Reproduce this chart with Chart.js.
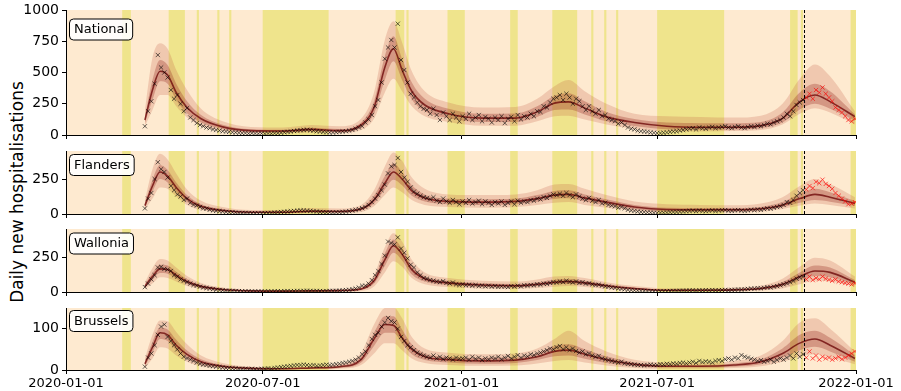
<!DOCTYPE html>
<html>
<head>
<meta charset="utf-8">
<script src="https://cdn.jsdelivr.net/npm/chart.js@4.4.0/dist/chart.umd.min.js"></script>
<style>
  body { margin: 0; background: #fff; width: 901px; height: 391px; position: relative; overflow: hidden; font-family: "DejaVu Sans"; }
  canvas { position: absolute; left: 0; }
  #ylabel { position: absolute; left: 17px; top: 192px; transform: translate(-50%, -50%) rotate(-90deg); font-size: 17px; white-space: nowrap; color: #000; }
</style>
</head>
<body>
<div id="ylabel">Daily new hospitalisations</div>
<canvas id="c0" width="901" height="144" style="top:0px"></canvas>
<canvas id="c1" width="901" height="78" style="top:144px"></canvas>
<canvas id="c2" width="901" height="78" style="top:222px"></canvas>
<canvas id="c3" width="901" height="91" style="top:300px"></canvas>
<script>
const xTickLabels = ["2020-01-01", "2020-07-01", "2021-01-01", "2021-07-01", "2022-01-01"];
const cutoffDate = "2021-11-14";

// school holidays (shaded)
const holidays = [
  ["2020-02-22", "2020-03-01"], ["2020-04-05", "2020-04-20"], ["2020-05-01", "2020-05-03"],
  ["2020-05-20", "2020-05-22"], ["2020-05-31", "2020-06-02"], ["2020-07-01", "2020-08-31"],
  ["2020-11-01", "2020-11-09"], ["2020-11-11", "2020-11-13"], ["2020-12-19", "2021-01-04"],
  ["2021-02-15", "2021-02-22"], ["2021-03-26", "2021-04-18"], ["2021-05-01", "2021-05-03"],
  ["2021-05-13", "2021-05-15"], ["2021-05-24", "2021-05-26"], ["2021-07-01", "2021-09-01"],
  ["2021-11-01", "2021-11-08"], ["2021-11-11", "2021-11-13"], ["2021-12-27", "2022-01-01"]
];

// observations: one every 3 days from obsStart
const obsStart = "2020-03-14";
const obsStep = 3;

const nationalObs = [70,190,270,410,640,540,500,460,360,290,
  320,250,190,215,140,120,95,
  80,70,60,55,45,40,35,30,28,25,
  22,20,18,15,15,12,14,12,10,12,
  10,12,11,14,15,18,22,25,28,32,35,
  38,40,42,38,35,30,28,25,22,20,
  20,22,25,28,30,35,40,50,60,70,
  100,125,160,230,280,420,610,700,760,700,
  890,600,520,420,330,300,260,230,210,200,
  170,210,160,120,180,150,120,170,140,110,
  150,130,170,120,140,160,110,145,130,100,
  140,120,150,95,130,145,110,160,125,150,
  140,170,150,190,185,230,220,260,290,300,
  320,280,330,300,250,290,270,230,200,230,
  190,170,200,150,160,130,120,110,90,100,
  80,60,50,45,35,30,28,25,20,18,
  15,15,18,20,25,28,30,35,40,45,
  50,55,45,60,55,50,60,65,55,60,
  65,70,60,55,65,70,60,55,65,70,
  65,75,70,80,90,85,100,110,120,140,
  170,150,190,240,260,280,
  300,330,290,360,340,380,330,300,270,220,200,180,150,120,110,130];

const flandersObs = [40,110,150,250,370,320,300,260,200,170,
  140,125,100,110,80,65,60,
  50,40,38,30,25,22,20,18,15,12,
  12,10,9,8,8,7,6,6,5,6,
  6,7,8,10,12,14,16,18,20,22,24,
  26,25,24,22,20,18,15,14,12,12,
  11,12,13,15,17,20,25,30,35,42,
  50,65,85,110,135,170,210,290,340,350,
  400,300,260,230,190,160,145,130,120,115,
  105,120,95,85,110,90,80,100,85,70,
  90,80,100,75,85,95,70,90,80,65,
  85,75,90,65,80,90,70,95,80,90,
  85,100,95,110,105,120,115,130,140,135,
  145,130,150,135,120,140,125,110,100,115,
  95,85,100,75,80,65,60,55,45,50,
  40,30,25,22,18,15,14,12,10,9,
  8,8,9,10,12,14,15,17,18,20,
  22,24,20,25,22,20,24,26,22,25,
  26,28,24,22,26,28,24,22,26,30,
  28,32,30,35,40,38,45,50,55,65,
  85,80,100,130,150,170,
  175,200,185,230,220,245,215,200,180,150,130,110,90,70,75,85];

const walloniaObs = [35,60,90,120,175,180,165,160,150,120,
  110,90,80,70,60,50,45,
  38,32,28,24,20,16,14,12,10,9,
  8,7,6,6,5,5,4,4,4,4,
  4,5,4,5,6,5,6,7,6,7,8,
  7,8,9,8,7,8,7,6,7,8,
  8,9,10,12,14,16,20,25,32,45,
  45,60,85,120,150,200,260,360,350,340,
  390,310,280,240,195,175,140,120,100,95,
  85,80,75,70,78,65,60,68,55,50,
  55,48,52,45,50,42,46,40,44,38,
  42,36,40,38,35,42,38,45,40,48,
  45,50,48,55,52,60,58,65,70,68,
  75,70,80,72,68,75,65,70,60,62,
  55,50,52,45,40,38,32,30,25,22,
  20,16,14,12,10,9,8,7,6,6,
  5,5,6,6,7,8,8,9,10,10,
  11,12,10,12,11,13,12,14,12,13,
  14,15,13,15,16,18,17,20,22,25,
  24,28,26,30,34,32,38,42,48,55,
  62,70,80,95,105,110,
  90,110,85,100,90,110,95,88,80,90,75,70,64,60,55,62];

const brusselsObs = [8,30,40,60,85,105,110,80,70,60,
  50,40,32,28,25,22,18,
  15,13,12,10,9,8,7,6,5,5,
  4,4,3,3,3,2,3,2,2,3,
  3,4,3,5,6,7,8,9,10,11,12,
  12,13,12,11,12,10,11,12,13,12,
  13,14,15,17,18,20,22,25,30,38,
  45,60,75,85,90,105,115,126,118,115,
  100,80,70,60,55,48,42,38,35,32,
  30,35,28,32,26,30,28,25,30,27,
  28,30,25,32,27,30,24,28,26,30,
  28,32,26,30,34,28,32,36,30,35,
  33,38,36,40,42,45,48,52,50,55,
  58,50,55,48,52,46,42,45,38,40,
  35,32,34,28,26,24,22,20,18,20,
  16,15,14,13,12,12,11,12,13,12,
  12,14,13,15,14,16,15,17,18,16,
  18,20,17,22,19,21,20,18,22,24,
  22,26,28,25,30,28,36,32,30,27,
  25,22,24,20,22,25,20,24,28,25,
  30,35,28,40,32,38,
  30,45,28,35,25,32,28,30,25,28,32,26,30,35,40,45];

// model fit: dates, median and quantile bands
const bandDates = ["2020-03-14","2020-03-21","2020-03-28","2020-04-04","2020-04-12","2020-04-22","2020-05-05",
  "2020-05-25","2020-06-20","2020-07-20","2020-08-15","2020-09-10","2020-09-30","2020-10-12","2020-10-22",
  "2020-10-30","2020-11-07","2020-11-16","2020-11-28","2020-12-20","2021-01-20","2021-02-20","2021-03-12",
  "2021-03-28","2021-04-10","2021-04-25","2021-05-15","2021-06-10","2021-07-10","2021-08-10","2021-09-10",
  "2021-10-05","2021-10-25","2021-11-10","2021-11-24","2021-12-08","2021-12-31"];

const nationalMed = [120,360,510,480,340,220,130,65,35,32,45,35,80,220,540,690,520,350,240,170,135,135,185,255,265,215,145,100,70,62,62,75,133,267,320,267,147];
const nationalHi95 = [200,620,735,690,520,360,210,110,65,60,80,70,130,340,760,910,740,510,350,260,220,225,290,390,440,350,250,170,150,145,140,155,250,450,565,470,190];
const nationalLo95 = [70,200,320,320,230,140,75,35,15,12,20,15,40,130,340,450,350,230,150,105,75,75,110,150,155,125,85,50,30,28,32,40,85,170,215,180,85];
const nationalHi50 = [145,440,600,560,410,270,160,82,46,42,58,48,100,270,630,790,610,420,290,210,170,172,230,315,335,270,185,128,100,95,95,105,180,340,410,350,165];
const nationalLo50 = [95,280,430,410,280,175,100,48,24,22,32,24,60,170,440,590,440,285,190,135,105,105,145,200,205,165,110,72,46,42,44,55,100,205,250,210,115];

const flandersMed = [60,200,300,270,190,110,55,25,12,12,20,18,35,100,220,300,250,165,115,90,85,90,110,135,140,115,85,50,32,30,30,38,65,110,140,120,75];
const flandersHi95 = [100,320,430,390,290,175,95,50,28,28,42,40,65,170,340,440,380,260,180,140,135,140,170,210,215,180,135,90,70,65,62,75,120,200,250,215,120];
const flandersLo95 = [30,110,190,180,125,65,28,10,4,4,8,7,15,55,135,190,155,100,65,50,45,50,65,80,85,65,45,22,10,10,12,16,35,60,75,65,40];
const flandersHi50 = [75,245,350,315,225,135,70,35,18,18,28,26,47,130,270,360,300,205,140,110,105,110,135,165,170,140,105,65,45,42,42,50,85,145,180,155,92];
const flandersLo50 = [45,160,250,225,155,85,40,17,7,7,13,12,25,75,175,245,205,130,90,70,65,70,88,108,112,90,65,35,20,19,20,26,48,80,100,88,58];

const walloniaMed = [40,110,165,160,120,75,40,18,8,6,8,10,22,80,230,330,270,160,95,65,50,45,55,70,75,65,45,25,12,12,15,25,55,110,150,140,70];
const walloniaHi95 = [70,170,235,225,175,115,65,32,16,13,16,20,40,125,320,420,360,230,140,100,80,75,90,110,115,100,70,42,25,25,30,45,95,180,245,225,110];
const walloniaLo95 = [20,60,105,100,75,42,20,7,2,1,2,3,8,40,140,220,180,100,55,35,25,22,28,38,42,35,22,10,4,4,5,10,25,55,80,75,40];
const walloniaHi50 = [52,135,195,190,145,92,50,24,12,9,11,14,30,100,275,375,310,190,115,80,62,57,70,88,92,80,55,32,17,17,20,32,72,140,190,175,85];
const walloniaLo50 = [30,85,135,130,95,58,30,12,5,3,5,6,14,60,185,280,225,125,75,50,38,34,42,55,58,50,35,17,7,8,10,17,40,82,115,105,55];

const brusselsMed = [15,55,90,85,60,38,20,9,4,3,5,8,25,75,110,108,78,50,32,25,22,24,32,45,48,38,25,14,9,9,12,20,40,65,75,60,28];
const brusselsHi95 = [28,85,120,118,92,62,35,17,8,6,9,15,42,110,150,152,125,80,52,42,38,40,52,75,95,70,45,25,18,17,22,35,70,115,125,100,45];
const brusselsLo95 = [5,28,55,52,35,20,9,3,1,0.5,1,3,12,40,65,65,48,28,17,12,10,11,16,22,24,18,11,5,3,3,5,9,20,32,38,30,14];
const brusselsHi50 = [20,68,102,98,73,47,26,12,6,4,7,11,32,90,130,130,98,62,40,32,29,30,40,58,62,50,33,18,12,12,16,26,52,85,95,78,36];
const brusselsLo50 = [10,42,75,70,48,29,14,6,2,2,3,5,18,58,90,90,64,38,24,18,15,17,24,33,35,27,17,9,6,6,8,14,30,48,56,45,20];

const DAY0 = Date.parse("2020-01-01");
const toDay = (s) => (Date.parse(s) - DAY0) / 86400000;
const cutDay = toDay(cutoffDate);

const panels = [
  { id: "c0", name: "National", padTop: 10, xh: 9, yMax: 1000, yTicks: [0, 250, 500, 750, 1000], boxTop: 9,
    obs: nationalObs, med: nationalMed, hi95: nationalHi95, lo95: nationalLo95, hi50: nationalHi50, lo50: nationalLo50 },
  { id: "c1", name: "Flanders", padTop: 7, xh: 8, yMax: 450, yTicks: [0, 250], boxTop: 3.5,
    obs: flandersObs, med: flandersMed, hi95: flandersHi95, lo95: flandersLo95, hi50: flandersHi50, lo50: flandersLo50 },
  { id: "c2", name: "Wallonia", padTop: 7, xh: 8, yMax: 450, yTicks: [0, 250], boxTop: 4,
    obs: walloniaObs, med: walloniaMed, hi95: walloniaHi95, lo95: walloniaLo95, hi50: walloniaHi50, lo50: walloniaLo50 },
  { id: "c3", name: "Brussels", padTop: 8, xh: 21, yMax: 150, yTicks: [0, 100], boxTop: 2.5, last: true,
    obs: brusselsObs, med: brusselsMed, hi95: brusselsHi95, lo95: brusselsLo95, hi50: brusselsHi50, lo50: brusselsLo50 }
];

const xFont = { family: "DejaVu Sans", size: 13 };
const yFont = { family: "DejaVu Sans", size: 14 };

const decorPlugin = {
  id: "decor",
  beforeDraw(chart) {
    const { ctx, chartArea: a, scales: { x } } = chart;
    ctx.save();
    ctx.fillStyle = "#feead0";
    ctx.fillRect(a.left, a.top, a.width, a.height);
    ctx.fillStyle = "#efe48c";
    holidays.forEach(([s, e]) => {
      const x0 = x.getPixelForValue(toDay(s));
      const x1 = x.getPixelForValue(toDay(e));
      ctx.fillRect(x0, a.top, x1 - x0, a.height);
    });
    ctx.restore();
  },
  afterDatasetsDraw(chart) {
    const { ctx, chartArea: a, scales: { x } } = chart;
    const px = Math.round(x.getPixelForValue(cutDay)) + 0.5;
    ctx.save();
    ctx.strokeStyle = "#000";
    ctx.lineWidth = 1;
    ctx.setLineDash([3, 2]);
    ctx.beginPath();
    ctx.moveTo(px, a.top);
    ctx.lineTo(px, a.bottom);
    ctx.stroke();
    ctx.restore();
  },
  afterDraw(chart) {
    const { ctx, chartArea: a } = chart;
    const p = chart.options.plugins.decor;
    ctx.save();
    ctx.font = "13px 'DejaVu Sans'";
    const w = ctx.measureText(p.name).width + 9;
    const bx = a.left + 3.5, by = a.top + p.boxTop;
    ctx.beginPath();
    ctx.roundRect(bx, by, w, 21, 4);
    ctx.fillStyle = "rgba(255,255,255,0.9)";
    ctx.fill();
    ctx.strokeStyle = "#000";
    ctx.lineWidth = 1;
    ctx.stroke();
    ctx.fillStyle = "#000";
    ctx.textBaseline = "middle";
    ctx.fillText(p.name, bx + 4.5, by + 11);
    ctx.restore();
  }
};

panels.forEach((p) => {
  const pts = p.obs.map((v, i) => ({ x: toDay(obsStart) + i * obsStep, y: v }));
  const band = (arr) => bandDates.map((d, i) => ({ x: toDay(d), y: arr[i] }));
  const hidden = { pointRadius: 0, borderWidth: 0, borderColor: "transparent" };

  new Chart(document.getElementById(p.id), {
    type: "line",
    data: {
      datasets: [
        {
          data: pts, showLine: false, pointStyle: "crossRot", pointRadius: 3, pointBorderWidth: 1,
          pointBorderColor: (c) => (c.raw && c.raw.x >= cutDay ? "rgba(255,0,0,0.65)" : "rgba(0,0,0,0.6)"),
          pointBackgroundColor: "transparent", order: 0
        },
        { data: band(p.med), borderColor: "rgba(110,10,10,0.8)", borderWidth: 1.6, pointRadius: 0, order: 1 },
        { data: band(p.hi50), fill: "+1", backgroundColor: "rgba(150,40,30,0.3)", ...hidden, order: 2 },
        { data: band(p.lo50), ...hidden, order: 3 },
        { data: band(p.hi95), fill: "+1", backgroundColor: "rgba(190,80,60,0.22)", ...hidden, order: 4 },
        { data: band(p.lo95), ...hidden, order: 5 }
      ]
    },
    options: {
      responsive: false,
      animation: false,
      events: [],
      layout: { padding: { top: p.padTop, right: 45, left: 0, bottom: 0 } },
      elements: { line: { cubicInterpolationMode: "monotone" } },
      plugins: { legend: { display: false }, tooltip: { enabled: false }, decor: { name: p.name, boxTop: p.boxTop } },
      scales: {
        x: {
          type: "linear", min: 0, max: toDay("2022-01-01"),
          afterBuildTicks: (s) => { s.ticks = xTickLabels.map((d) => ({ value: toDay(d) })); },
          afterFit: (s) => { s.height = p.xh; s.paddingLeft = 0; s.paddingRight = 0; },
          ticks: { autoSkip: false, maxRotation: 0, padding: 2, color: "#000", font: xFont,
            callback: (v, i) => (p.last ? xTickLabels[i] : "") },
          grid: { drawOnChartArea: false, drawTicks: true, tickLength: 4, color: "#000" },
          border: { color: "#000", width: 1 }
        },
        y: {
          min: 0, max: p.yMax,
          afterBuildTicks: (s) => { s.ticks = p.yTicks.map((v) => ({ value: v })); },
          afterFit: (s) => { s.width = 66; s.paddingTop = 0; s.paddingBottom = 0; },
          ticks: { padding: 3, color: "#000", font: yFont, callback: (v) => String(v) },
          grid: { drawOnChartArea: false, drawTicks: true, tickLength: 4, color: "#000" },
          border: { color: "#000", width: 1 }
        }
      }
    },
    plugins: [decorPlugin]
  });
});
</script>
</body>
</html>
